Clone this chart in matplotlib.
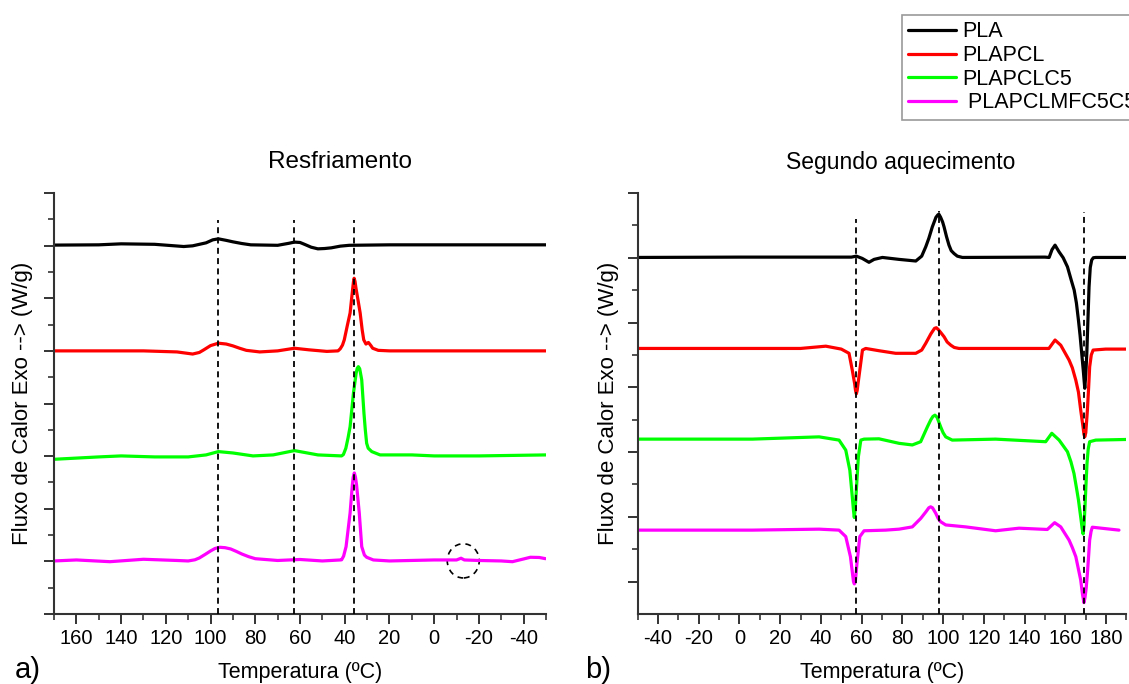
import matplotlib
matplotlib.use("Agg")
import matplotlib.pyplot as plt
from matplotlib.patches import Ellipse
from matplotlib.ticker import MultipleLocator, FixedLocator

plt.rcParams['font.family'] = ['Liberation Sans', 'DejaVu Sans']
plt.rcParams['axes.unicode_minus'] = False

# ---------------- Cooling scan (Resfriamento) ----------------
cool_pla_T = [170, 150, 140, 125, 112, 108, 102, 99, 96.5, 93, 90, 86, 82, 70, 65, 62.5, 60, 58, 55, 52,
              49, 46, 42, 38, 20, 0, -50]
cool_pla_Q = [7.01, 7.015, 7.034, 7.025, 6.983, 6.996, 7.053, 7.11, 7.129, 7.10, 7.072, 7.04, 7.015, 7.006,
              7.044, 7.067, 7.06, 7.025, 6.97, 6.939, 6.945, 6.958, 6.99, 7.006, 7.015, 7.015, 7.015]

cool_pcl_T = [170, 150, 130, 115, 108, 105, 103, 100, 96.5, 93, 90, 87, 84, 78, 70, 62.5, 56, 48, 43, 42,
              41, 40.2, 38.8, 37.6, 36.5, 36.1, 35.8, 35.4, 35.0, 34.0, 33.1, 32.2, 31.5, 30.5, 29.4,
              28.3, 27.5, 25, 20, 0, -50]
cool_pcl_Q = [5.0, 5.0, 5.0, 4.98, 4.94, 4.97, 5.02, 5.10, 5.146, 5.13, 5.095, 5.05, 5.01, 4.98, 5.0,
              5.05, 5.02, 4.99, 5.0, 5.04, 5.11, 5.21, 5.49, 5.72, 6.16, 6.31, 6.38, 6.32, 6.20, 5.95,
              5.72, 5.40, 5.21, 5.13, 5.16, 5.10, 5.05, 5.01, 5.0, 5.0, 5.0]

cool_c5_T = [170, 150, 140, 125, 110, 102, 96.5, 90, 81, 72, 62.5, 52, 41.4, 40.6, 39.5, 38.5, 37.6,
             36.1, 34.9, 34.4, 33.9, 33.3, 32.4, 31.4, 30.8, 30.2, 29.5, 27.9, 24.2, 10, 0, -20, -50]
cool_c5_Q = [2.94, 2.985, 3.004, 2.985, 2.985, 3.023, 3.086, 3.06, 3.004, 3.023, 3.105, 3.023, 3.004, 3.03,
             3.15, 3.35, 3.56, 4.196, 4.576, 4.67, 4.70, 4.66, 4.449, 3.816, 3.5, 3.245, 3.15, 3.086,
             3.023, 3.023, 3.004, 3.004, 3.023]

cool_mf_T = [170, 160, 145, 130, 115, 110, 107, 105, 102.5, 100, 98, 95.9, 93.5, 91, 88.5, 86, 83, 80,
             70, 60, 50, 42, 41.4, 40.5, 39.4, 37.6, 36.6, 36.2, 35.7, 35.2, 34.7, 33.5, 32.4, 31.2,
             30.2, 27.2, 20, 0, -10, -12, -13.5, -20, -30, -35, -40, -43, -47, -49.8]
cool_mf_Q = [1.008, 1.027, 0.994, 1.04, 1.017, 1.008, 1.03, 1.065, 1.13, 1.198, 1.245, 1.268, 1.26, 1.236,
             1.19, 1.14, 1.09, 1.051, 1.017, 1.036, 1.008, 1.027, 1.03, 1.10, 1.28, 1.92, 2.45, 2.60,
             2.68, 2.60, 2.45, 1.92, 1.28, 1.12, 1.078, 1.027, 1.008, 1.027, 1.027, 1.06, 1.027, 1.017,
             1.008, 0.994, 1.046, 1.078, 1.074, 1.051]

cool_marks_T = [96.5, 62.5, 35.7]

# ---------------- Second heating scan (Segundo aquecimento) ----------------
heat_pla_T = [-50, 0, 55, 57.4, 60.3, 63.6, 66.1, 70.2, 78.4, 86.6, 89.5, 91.5, 93, 94.7, 96.5, 97.5,
              98.0, 98.8, 99.8, 100.5, 101.7, 102.9, 104, 105.4, 107, 109.5, 150, 152.1, 153.5, 155,
              157, 159, 161.1, 163, 164.4, 165.5, 166.5, 167.3, 168.1, 168.9, 169.6, 170.1, 170.6,
              171.7, 172.3, 173, 173.8, 175, 190]
heat_pla_Q = [11.01, 11.02, 11.02, 11.05, 10.98, 10.86, 10.95, 11.01, 10.95, 10.90, 11.05, 11.34, 11.6,
              11.95, 12.25, 12.33, 12.34, 12.25, 12.1, 11.95, 11.65, 11.39, 11.22, 11.13, 11.05, 11.01,
              11.02, 11.01, 11.25, 11.39, 11.18, 11.0, 10.72, 10.3, 10.0, 9.6, 9.07, 8.6, 8.05, 7.5,
              6.97, 7.4, 8.05, 10.1, 10.7, 10.93, 11.0, 11.01, 11.01]

heat_pcl_T = [-50, 0, 30, 42.4, 50, 53.8, 55.4, 56.6, 57.0, 57.4, 57.8, 58.2, 59.1, 60.4, 62.0, 68.5,
              76.7, 86.6, 89.5, 91.5, 94, 95.8, 96.7, 97.7, 99, 100.5, 102, 103.8, 105.5, 107.8, 152,
              155, 157.8, 161.9, 163.5, 165.2, 166.5, 167.6, 168.7, 169.2, 169.6, 170.1, 170.9, 171.5,
              172.0, 172.8, 173.7, 179.9, 190]
heat_pcl_Q = [8.20, 8.20, 8.20, 8.27, 8.18, 8.05, 7.53, 7.1, 6.9, 6.80, 6.9, 7.1, 7.53, 8.15, 8.20, 8.13,
              8.05, 8.05, 8.15, 8.36, 8.65, 8.82, 8.84, 8.78, 8.68, 8.56, 8.4, 8.30, 8.23, 8.20, 8.20,
              8.46, 8.30, 7.84, 7.6, 7.22, 6.85, 6.30, 5.8, 5.55, 5.47, 5.6, 6.30, 7.0, 7.63, 8.0, 8.15,
              8.18, 8.18]

heat_c5_T = [-50, 6.3, 39.1, 48.9, 52.2, 54.2, 55.4, 56.0, 56.4, 56.9, 57.4, 58.4, 59.6, 61.2, 68.5,
             78.4, 84.9, 89.0, 92.3, 94, 95, 96.0, 97, 98.8, 100, 101.3, 104.5, 125.8, 150.4, 153.4,
             157, 161.1, 162.8, 164.3, 165.5, 166.5, 167.8, 168.3, 168.8, 169.2, 169.7, 170.2, 170.7,
             171.3, 172, 175, 190.5]
heat_c5_Q = [5.40, 5.40, 5.47, 5.37, 5.06, 4.44, 3.62, 3.2, 2.98, 3.3, 3.83, 4.86, 5.37, 5.40, 5.41,
             5.27, 5.22, 5.32, 5.78, 6.0, 6.1, 6.14, 6.08, 5.78, 5.6, 5.47, 5.37, 5.40, 5.32, 5.58, 5.37,
             5.01, 4.7, 4.34, 3.9, 3.52, 2.90, 2.65, 2.47, 2.7, 3.31, 4.0, 4.65, 5.1, 5.32, 5.37, 5.39]

heat_mf_T = [-50, 6.3, 39.1, 48.9, 52.2, 54.5, 55.6, 56.0, 56.4, 56.9, 57.7, 59.1, 61.2, 71.8, 78.4,
             84.9, 89.0, 91.5, 93, 93.9, 94.8, 96.4, 97.6, 98.8, 101.3, 111.1, 125.8, 137.3, 151.2,
             154.8, 157.8, 161.9, 163.5, 165.2, 167.6, 168.5, 169.2, 169.7, 170.3, 170.9, 171.5, 172.0,
             172.7, 173.3, 186.4]
heat_mf_Q = [2.59, 2.59, 2.62, 2.59, 2.39, 1.77, 1.2, 1.0, 0.93, 1.0, 1.56, 2.39, 2.57, 2.59, 2.62, 2.69,
             2.95, 3.15, 3.28, 3.31, 3.28, 3.11, 2.95, 2.85, 2.75, 2.69, 2.57, 2.65, 2.61, 2.82, 2.69,
             2.28, 2.05, 1.77, 1.05, 0.6, 0.35, 0.5, 0.8, 1.26, 1.8, 2.28, 2.55, 2.68, 2.59]

heat_marks_T = [57.4, 98.0, 169.0]
heat_marks_top = [12.2, 12.45, 12.4]

series_names = ['PLA', 'PLAPCL', 'PLAPCLC5', ' PLAPCLMFC5C5']
series_colors = ['#000000', '#ff0000', '#00ff00', '#ff00ff']

cool_T = [cool_pla_T, cool_pcl_T, cool_c5_T, cool_mf_T]
cool_Q = [cool_pla_Q, cool_pcl_Q, cool_c5_Q, cool_mf_Q]
heat_T = [heat_pla_T, heat_pcl_T, heat_c5_T, heat_mf_T]
heat_Q = [heat_pla_Q, heat_pcl_Q, heat_c5_Q, heat_mf_Q]

W, H = 1129, 684
fig = plt.figure(figsize=(W / 100, H / 100), dpi=100)
fig.patch.set_facecolor('white')

ax1 = fig.add_axes([54 / W, 1 - 614 / H, (546 - 54) / W, (614 - 193) / H])
ax2 = fig.add_axes([637.7 / W, 1 - 614 / H, (1126.3 - 637.7) / W, (614 - 193) / H])

axis_color = '#333333'
for ax in (ax1, ax2):
    for side in ('top', 'right'):
        ax.spines[side].set_visible(False)
    for side in ('left', 'bottom'):
        ax.spines[side].set_linewidth(1.5)
        ax.spines[side].set_color(axis_color)
    ax.tick_params(which='major', direction='out', length=7, width=1.4, color=axis_color,
                   labelsize=14.5, pad=4, labelleft=False)
    ax.tick_params(which='minor', direction='out', length=4, width=1.2, color=axis_color)
    ax.set_facecolor('white')

lw = 2.3
lines = []
for T, Q, c in zip(cool_T, cool_Q, series_colors):
    ax1.plot(T, Q, color=c, lw=lw, solid_joinstyle='round', solid_capstyle='round')
for T, Q, c, name in zip(heat_T, heat_Q, series_colors, series_names):
    ln, = ax2.plot(T, Q, color=c, lw=lw, solid_joinstyle='round', solid_capstyle='round', label=name)
    lines.append(ln)

dash = (0, (3.3, 2.4))
for x in cool_marks_T:
    ax1.plot([x, x], [0, 7.49], color='black', lw=1.3, ls=dash, zorder=5)
for x, top in zip(heat_marks_T, heat_marks_top):
    ax2.plot([x, x], [0, top], color='black', lw=1.3, ls=dash, zorder=5)

ax1.add_patch(Ellipse((-13, 1.01), 14.3, 0.65, fill=False, edgecolor='black', lw=1.2, ls=(0, (3.5, 3))))

ax1.set_xlim(170, -50)
ax1.set_ylim(0, 8)
ax1.xaxis.set_major_locator(FixedLocator(list(range(160, -41, -20))))
ax1.xaxis.set_minor_locator(MultipleLocator(10))
ax1.yaxis.set_major_locator(MultipleLocator(1))
ax1.yaxis.set_minor_locator(MultipleLocator(0.5))

ax2.set_xlim(-50, 190)
ax2.set_ylim(0, 13)
ax2.xaxis.set_major_locator(FixedLocator(list(range(-40, 181, 20))))
ax2.xaxis.set_minor_locator(MultipleLocator(10))
ax2.yaxis.set_major_locator(FixedLocator([1, 3, 5, 7, 9, 11, 13]))
ax2.yaxis.set_minor_locator(FixedLocator([2, 4, 6, 8, 10, 12]))

ax1.set_xlabel('Temperatura (ºC)', fontsize=15.5, labelpad=10)
ax2.set_xlabel('Temperatura (ºC)', fontsize=15.5, labelpad=10)
ax1.set_ylabel('Fluxo de Calor Exo --> (W/g)', fontsize=16, labelpad=8)
ax2.set_ylabel('Fluxo de Calor Exo --> (W/g)', fontsize=16, labelpad=6)

fig.text(340 / W, 1 - 162 / H, 'Resfriamento', fontsize=17.5, ha='center', va='center')
fig.text(901 / W, 1 - 162 / H, 'Segundo aquecimento', fontsize=16.5, ha='center', va='center')
fig.text(28 / W, 1 - 670 / H, 'a)', fontsize=21, ha='center', va='center')
fig.text(598 / W, 1 - 670 / H, 'b)', fontsize=21, ha='center', va='center')

leg = fig.legend(handles=lines, labels=series_names, loc='upper left',
                 bbox_to_anchor=(902 / W, 1 - 15 / H), fontsize=15.5, frameon=True, fancybox=False,
                 handlelength=2.2, handletextpad=0.3, labelspacing=0.12, borderpad=0.3,
                 borderaxespad=0)
leg.get_frame().set_edgecolor('#808080')
leg.get_frame().set_linewidth(1.2)
for l in leg.get_lines():
    l.set_linewidth(2.3)

fig.savefig('out.png', dpi=100, facecolor='white')
